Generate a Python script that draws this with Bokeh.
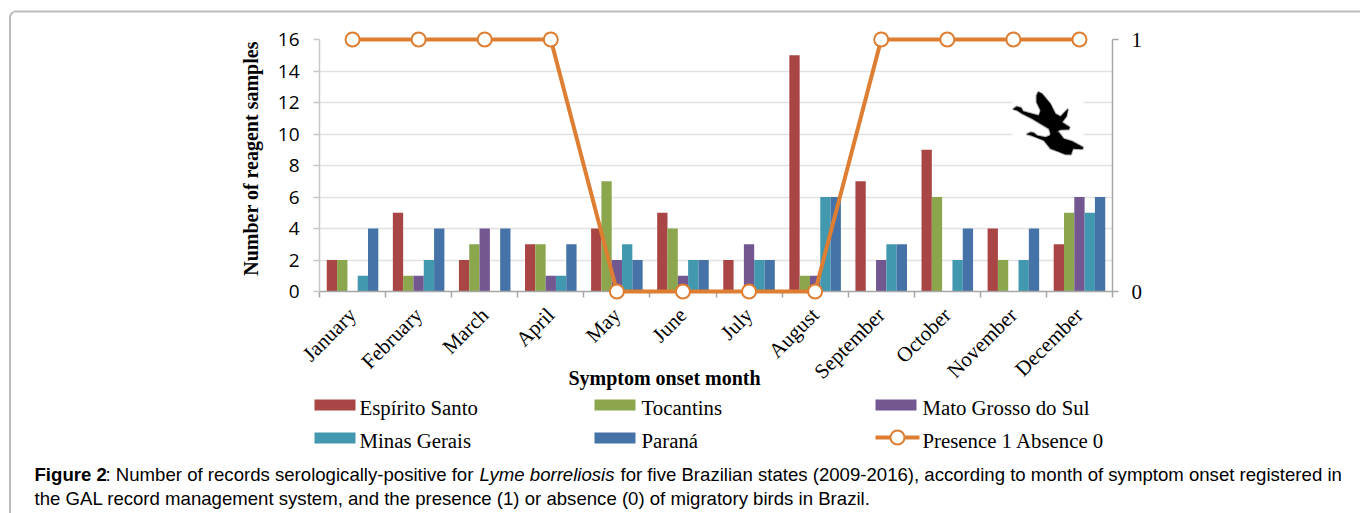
import math
from bokeh.plotting import figure
from bokeh.embed import file_html
from bokeh.resources import INLINE
from bokeh.core.properties import value
from bokeh.models import (Range1d, LinearAxis, FixedTicker, BoxAnnotation, PolyAnnotation, Grid)

months = ["January", "February", "March", "April", "May", "June", "July", "August",
          "September", "October", "November", "December"]
espirito_santo = [2, 5, 2, 3, 4, 5, 2, 15, 7, 9, 4, 3]
tocantins = [2, 1, 3, 3, 7, 4, 0, 1, 0, 6, 2, 5]
mato_grosso_do_sul = [0, 1, 4, 1, 2, 1, 3, 1, 2, 0, 0, 6]
minas_gerais = [1, 2, 0, 1, 3, 2, 2, 6, 3, 2, 2, 5]
parana = [4, 4, 4, 3, 2, 2, 2, 6, 3, 4, 4, 6]
presence = [1, 1, 1, 1, 0, 0, 0, 0, 1, 1, 1, 1]

series = [("Espírito Santo", espirito_santo, "#A94545"),
          ("Tocantins", tocantins, "#8BA64D"),
          ("Mato Grosso do Sul", mato_grosso_do_sul, "#735791"),
          ("Minas Gerais", minas_gerais, "#4198AF"),
          ("Paraná", parana, "#4573A7")]

W, H = 1360, 513
L, R, T, B = 319, 1112, 39, 291
GREY = "#a6a6a6"
ORANGE = "#DD7E33"
SERIF = "Liberation Serif"
SANS = "Liberation Sans"

p = figure(width=W, height=H, output_backend="svg", toolbar_location=None,
           x_range=Range1d(0, 12), y_range=Range1d(0, 16),
           x_axis_type=None, y_axis_type=None,
           min_border_left=L, min_border_right=W - R,
           min_border_top=T, min_border_bottom=H - B,
           outline_line_color=None, background_fill_color="white")
p.extra_y_ranges = {"presence": Range1d(0, 1)}


def dx(px):
    return (px - L) / (R - L) * 12


def dy(py):
    return (B - py) / (B - T) * 16


centers = [i + 0.5 for i in range(len(months))]
xaxis = LinearAxis(ticker=FixedTicker(ticks=centers, minor_ticks=list(range(13))),
                   major_label_overrides={c: m for c, m in zip(centers, months)},
                   major_label_orientation=math.pi / 4,
                   major_label_text_font=SERIF, major_label_text_font_size="21px",
                   major_label_text_color="black", major_label_standoff=14,
                   major_tick_in=0, major_tick_out=0, minor_tick_in=0, minor_tick_out=6,
                   minor_tick_line_color=GREY, minor_tick_line_width=1.5,
                   axis_line_color=GREY, axis_line_width=1.5)
p.add_layout(xaxis, "below")

yticks = list(range(0, 17, 2))
yaxis = LinearAxis(ticker=FixedTicker(ticks=yticks),
                   major_label_text_font="Open Sans", major_label_text_font_size="19px",
                   major_label_text_color="black", major_label_standoff=14,
                   major_tick_in=0, major_tick_out=6, minor_tick_line_color=None,
                   major_tick_line_color="#c8c8c8", major_tick_line_width=1.5,
                   axis_line_color="#c8c8c8", axis_line_width=1.5)
p.add_layout(yaxis, "left")

raxis = LinearAxis(y_range_name="presence", ticker=FixedTicker(ticks=[0, 1]),
                   major_label_text_font=SERIF, major_label_text_font_size="21px",
                   major_label_text_color="black", major_label_standoff=13,
                   major_tick_in=0, major_tick_out=6, minor_tick_line_color=None,
                   major_tick_line_color=GREY, major_tick_line_width=1.5,
                   axis_line_color=GREY, axis_line_width=1.5)
p.add_layout(raxis, "right")

p.add_layout(Grid(dimension=1, ticker=FixedTicker(ticks=yticks), grid_line_color="#e2e2e2",
                  grid_line_width=1.5))

BAR = 0.156
for k, (name, vals, color) in enumerate(series):
    xs = [c + (k - 2) * BAR for c in centers]
    p.vbar(x=xs, top=vals, bottom=0, width=BAR, fill_color=color, line_color=None)

p.line(centers, presence, y_range_name="presence", line_color=ORANGE, line_width=4,
       level="overlay")
p.scatter(centers, presence, y_range_name="presence", marker="circle", size=14,
          fill_color="white", line_color=ORANGE, line_width=2, level="overlay")


def text(s, x, y, size, font=SERIF, style="normal", angle=0, align="left"):
    p.text(x=[dx(x)], y=[dy(y)], text=[s], text_font=value(font), text_font_size=value(size),
           text_font_style=style, text_color="black", angle=angle, text_align=align,
           text_baseline="middle", level="overlay")


# legend, three columns of two rows
legend_cells = [(314, 359, 407, 0), (594, 641, 407, 1), (875, 922, 407, 2),
                (314, 359, 440, 3), (594, 641, 440, 4)]
for cx, tx, cy, idx in legend_cells:
    name, _, color = series[idx]
    p.quad(left=[dx(cx)], right=[dx(cx + 41)], top=[dy(cy - 8)], bottom=[dy(cy + 3)],
           fill_color=color, line_color=None, level="overlay")
    text(name, tx, cy, "20.8px")
p.line(x=[dx(875), dx(919)], y=[dy(437), dy(437)], line_color=ORANGE, line_width=4, level="overlay")
p.ellipse(x=[dx(897)], y=[dy(437)], width=14, height=14, width_units="screen", height_units="screen",
          fill_color="white", line_color=ORANGE, line_width=2, level="overlay")
text("Presence 1 Absence 0", 922, 440, "20.8px")

text("Number of reagent samples", 250, 158, "20px", style="bold", angle=math.pi / 2, align="center")
text("Symptom onset month", 664, 377, "20px", style="bold", align="center")

CAP = "18.6px"
text("Figure 2", 34, 474, CAP, SANS, "bold")
text(": Number of records serologically-positive for", 105, 474, CAP, SANS)
text("Lyme borreliosis", 479, 474, CAP, SANS, "italic")
text("for five Brazilian states (2009-2016), according to month of symptom onset registered in",
     620, 474, CAP, SANS)
text("the GAL record management system, and the presence (1) or absence (0) of migratory birds in Brazil.",
     34, 498, CAP, SANS)

# page frame of the figure panel
p.line(x=[dx(9.5), dx(9.5), dx(11), dx(14), dx(1360)], y=[dy(513), dy(16), dy(13), dy(11), dy(11)],
       line_color="#bdbdbd", line_width=2, level="overlay")

p.add_layout(BoxAnnotation(left=1012, right=1083, top=90, bottom=158,
                           left_units="canvas", right_units="canvas",
                           top_units="canvas", bottom_units="canvas",
                           fill_color="white", fill_alpha=1, line_color=None))
goose_upper = [(37,86),(48,78),(62,82),(68,92),(95,100),(115,105),(120,90),(108,65),(108,45),(113,34),
               (125,40),(135,52),(150,70),(165,100),(180,108),(195,92),(203,85),(198,108),(185,125),
               (208,140),(205,147),(180,148),(175,150),(165,160),(150,158),(145,145),(120,130),
               (95,115),(65,100),(50,90)]
goose_lower = [(78,161),(90,155),(100,157),(110,165),(135,170),(148,165),(152,155),(175,155),(190,175),
               (215,182),(248,200),(246,206),(218,205),(214,215),(212,222),(195,222),(170,212),
               (150,205),(130,180),(105,170),(92,165)]
for g in (goose_upper, goose_lower):
    p.add_layout(PolyAnnotation(xs=[1000 + a / 3 for a, b in g],
                                ys=[80 + b / 3 for a, b in g],
                                xs_units="canvas", ys_units="canvas",
                                fill_color="black", fill_alpha=1, line_color="black", line_width=2,
                                editable=False))

open("out.html", "w").write(file_html(p, INLINE))
